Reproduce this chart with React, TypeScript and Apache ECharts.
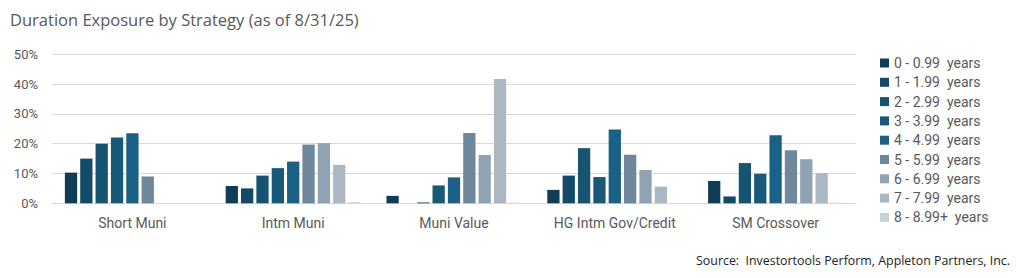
import React, { useEffect, useRef } from "react";
import * as echarts from "echarts";

const categories = ["Short Muni", "Intm Muni", "Muni Value", "HG Intm Gov/Credit", "SM Crossover"];
const buckets = [
  "0 - 0.99  years",
  "1 - 1.99  years",
  "2 - 2.99  years",
  "3 - 3.99  years",
  "4 - 4.99  years",
  "5 - 5.99  years",
  "6 - 6.99  years",
  "7 - 7.99  years",
  "8 - 8.99+  years",
];
const shortMuni = [10.3, 15.0, 20.0, 22.1, 23.5, 9.0, 0, 0, 0];
const intmMuni = [5.8, 5.0, 9.3, 11.8, 14.0, 19.7, 20.2, 12.9, 0.4];
const muniValue = [2.5, 0, 0.3, 6.0, 8.7, 23.6, 16.2, 41.7, 0.2];
const hgIntmGovCredit = [4.5, 9.3, 18.5, 8.8, 24.8, 16.3, 11.2, 5.6, 0];
const smCrossover = [7.5, 2.3, 13.5, 9.9, 22.8, 17.8, 14.8, 10.1, 0.2];
const yTicks = [0, 10, 20, 30, 40, 50];

const colors = [
  "#0f3d58",
  "#134a67",
  "#165472",
  "#18597a",
  "#1b6185",
  "#6e879b",
  "#90a3b3",
  "#abb8c4",
  "#c8d0d8",
];

export default function App() {
  const ref = useRef<HTMLDivElement>(null);
  useEffect(() => {
    document.body.style.margin = "0";
    if (!ref.current) return;
    const chart = echarts.init(ref.current, undefined, { renderer: "svg" });
    const byStrategy = [shortMuni, intmMuni, muniValue, hgIntmGovCredit, smCrossover];
    const series = buckets.map((name, i) => ({
      name,
      type: "bar" as const,
      data: byStrategy.map((s) => s[i]),
      itemStyle: { color: colors[i] },
      barGap: "25%",
      barCategoryGap: "16%",
    }));
    chart.setOption({
      animation: false,
      textStyle: { fontFamily: "Roboto" },
      grid: { left: 52, right: 168, top: 54.3, bottom: 74.7 },
      xAxis: {
        type: "category",
        data: categories,
        axisTick: { show: false },
        axisLine: { lineStyle: { color: "#d9d9d9", width: 1.2 } },
        axisLabel: { color: "#595959", fontSize: 14, margin: 13, fontFamily: "Roboto" },
      },
      yAxis: {
        type: "value",
        min: yTicks[0],
        max: yTicks[yTicks.length - 1],
        interval: 10,
        axisLabel: { color: "#595959", fontSize: 13, margin: 14, formatter: "{value}%", fontFamily: "Roboto" },
        splitLine: { lineStyle: { color: "#d9d9d9", width: 1.2 } },
        axisLine: { show: false },
        axisTick: { show: false },
      },
      legend: {
        orient: "vertical",
        left: 875,
        top: 50,
        itemWidth: 9,
        itemHeight: 9,
        itemGap: 3.3,
        icon: "rect",
        data: buckets,
        textStyle: { color: "#595959", fontSize: 14, lineHeight: 16, fontFamily: "Roboto" },
      },
      graphic: [
        {
          type: "text",
          left: 10,
          top: 11,
          style: {
            text: "Duration Exposure by Strategy (as of 8/31/25)",
            fill: "#595959",
            fontSize: 16.5,
            fontFamily: "Open Sans",
          },
        },
        {
          type: "text",
          right: 14,
          top: 254,
          style: {
            text: "Source:  Investortools Perform, Appleton Partners, Inc.",
            fill: "#222222",
            fontSize: 12.4,
            fontFamily: "Open Sans",
          },
        },
      ],
      series,
    });
    return () => chart.dispose();
  }, []);
  return <div ref={ref} style={{ width: 1024, height: 278 }} />;
}
